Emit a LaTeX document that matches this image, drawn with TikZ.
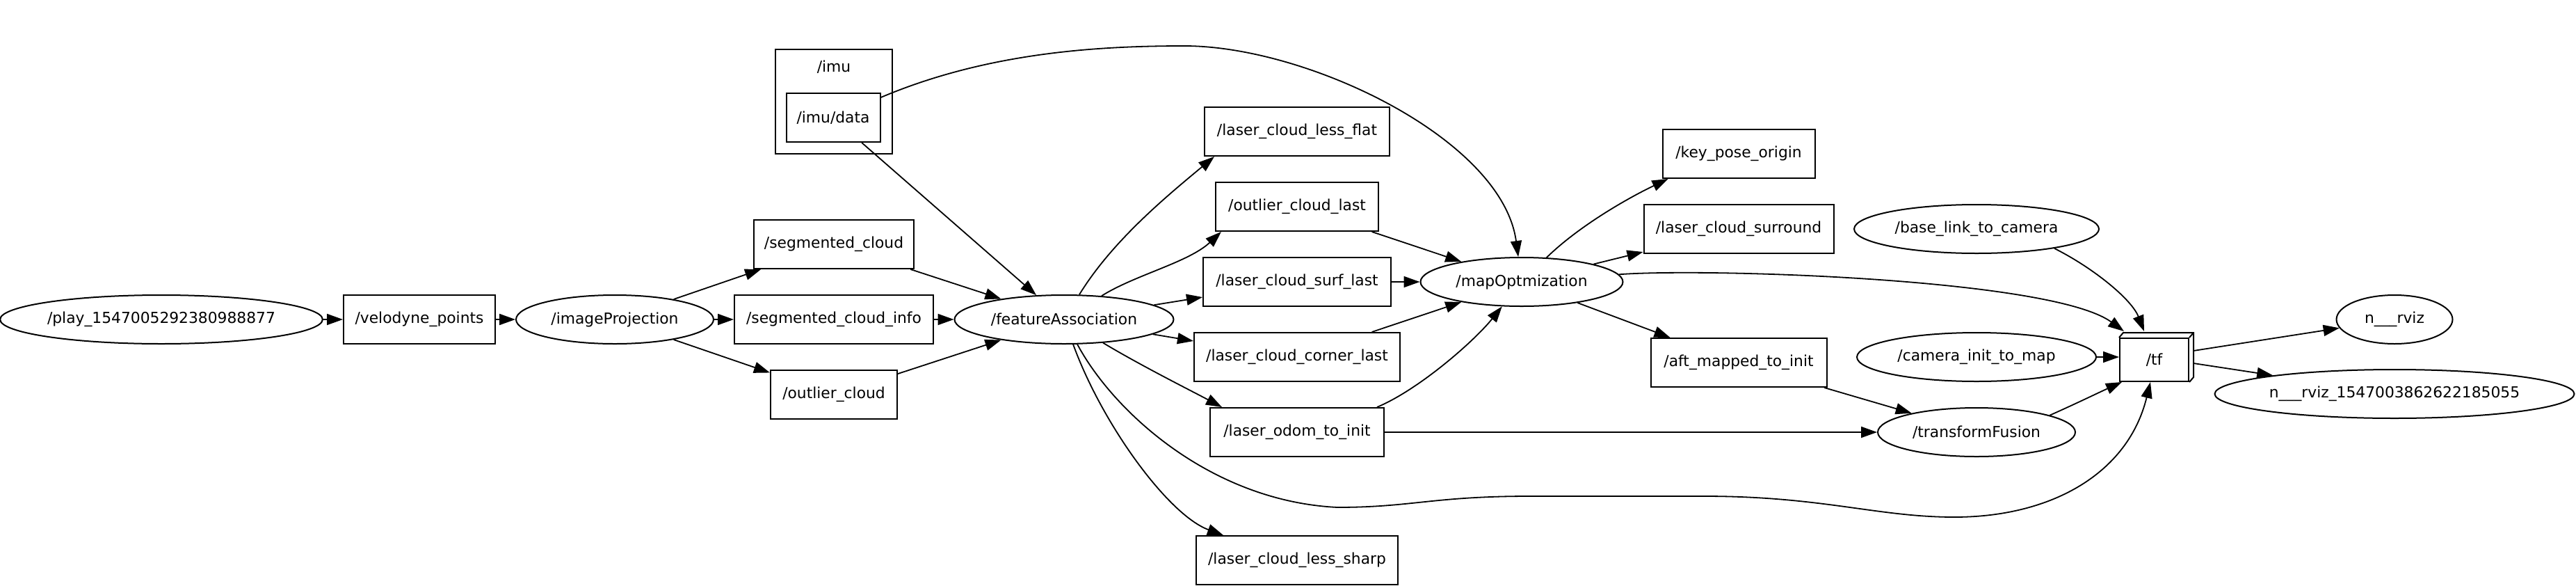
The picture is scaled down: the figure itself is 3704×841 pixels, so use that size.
\documentclass[tikz,border=0pt]{standalone}
\usepackage{fontspec}
\setmainfont{DejaVu Sans}
\usetikzlibrary{arrows.meta,shapes.geometric}
\begin{document}
\begin{tikzpicture}[x=1pt,y=-1pt]
\tikzset{
 lbl/.style={font=\fontsize{21.8}{26}\selectfont, inner sep=0pt},
 topic/.style={lbl, draw, line width=2pt, rectangle, minimum height=70pt},
 rosnode/.style={lbl, draw, line width=2pt, ellipse, minimum height=70pt},
 edge/.style={line width=1.8pt, -{Triangle[length=23pt,width=16pt]}},
}
\fill[white] (0,0) rectangle (3704,841);
\useasboundingbox (0,0) rectangle (3704,841);

% cluster
\node[draw, line width=2pt, minimum width=168pt, minimum height=150pt, inner sep=0pt] (imucl) at (1199,146) {};
\node[lbl] (imulbl) at (1199,96) {/imu};

% nodes
\node[rosnode, minimum width=462pt] (play) at (232,459) {/play\_1547005292380988877};
\node[topic, minimum width=218pt] (velo) at (603,459) {/velodyne\_points};
\node[rosnode, minimum width=284pt] (imP) at (884,459) {/imageProjection};
\node[topic, minimum width=135pt] (imudata) at (1198,169) {/imu/data};
\node[topic, minimum width=230pt] (seg) at (1199,351) {/segmented\_cloud};
\node[topic, minimum width=286pt] (seginfo) at (1199,459) {/segmented\_cloud\_info};
\node[topic, minimum width=182pt] (outlier) at (1199,567) {/outlier\_cloud};
\node[rosnode, minimum width=315pt] (fA) at (1530,459) {/featureAssociation};
\node[topic, minimum width=266pt] (lessflat) at (1865,189) {/laser\_cloud\_less\_flat};
\node[topic, minimum width=234pt] (olast) at (1865,297) {/outlier\_cloud\_last};
\node[topic, minimum width=270pt] (surf) at (1865,405) {/laser\_cloud\_surf\_last};
\node[topic, minimum width=296pt] (corner) at (1865,513) {/laser\_cloud\_corner\_last};
\node[topic, minimum width=250pt] (odom) at (1865,621) {/laser\_odom\_to\_init};
\node[topic, minimum width=290pt] (lesssharp) at (1865,805) {/laser\_cloud\_less\_sharp};
\node[rosnode, minimum width=291pt] (mapOpt) at (2188,405) {/mapOptmization};
\node[topic, minimum width=219pt] (keypose) at (2500,221) {/key\_pose\_origin};
\node[topic, minimum width=273pt] (surround) at (2500,329) {/laser\_cloud\_surround};
\node[topic, minimum width=253pt] (aft) at (2500,521) {/aft\_mapped\_to\_init};
\node[rosnode, minimum width=352pt] (base) at (2842,329) {/base\_link\_to\_camera};
\node[rosnode, minimum width=344pt] (cam) at (2842,513) {/camera\_init\_to\_map};
\node[rosnode, minimum width=284pt] (tF) at (2842,621) {/transformFusion};
\node[topic, minimum width=99pt, minimum height=62pt] (tf) at (3097.5,517) {/tf};
\draw[line width=2pt, line join=miter] (tf.north west) -- ([xshift=6pt,yshift=7pt]tf.north west) -- ([xshift=6pt,yshift=7pt]tf.north east) -- ([xshift=6pt,yshift=7pt]tf.south east) -- (tf.south east);
\draw[line width=2pt] (tf.north east) -- ([xshift=6pt,yshift=7pt]tf.north east);
\node[rosnode, minimum width=167pt] (nrviz) at (3443,459) {n\_\_\_rviz};
\node[rosnode, minimum width=517pt] (rvizlong) at (3443,566) {n\_\_\_rviz\_1547003862622185055};

% edges
\draw[edge] (play) -- (velo);
\draw[edge] (velo) -- (imP);
\draw[edge] (imP) -- (seg);
\draw[edge] (imP) -- (seginfo);
\draw[edge] (imP) -- (outlier);
\draw[edge] (seg) -- (fA);
\draw[edge] (seginfo) -- (fA);
\draw[edge] (outlier) -- (fA);
\draw[edge] (imudata) -- (fA);
\draw[edge] (imudata) .. controls (1420,75) and (1580,66) .. (1703,66) .. controls (1880,66) and (2160,200) .. (mapOpt);
\draw[edge] (fA) .. controls (1600,345) and (1680,280) .. ([xshift=15pt]lessflat.south west);
\draw[edge] (fA) .. controls (1632,395) and (1709,377) .. ([xshift=9pt]olast.south west);
\draw[edge] (fA) -- ([yshift=-22pt]surf.west);
\draw[edge] (fA) -- ([yshift=23pt]corner.west);
\draw[edge] (fA) .. controls (1640,525) and (1710,560) .. ([xshift=18pt]odom.north west);
\draw[edge] (fA) .. controls (1585,610) and (1680,740) .. ([xshift=40pt]lesssharp.north west);
\draw[edge] (fA) .. controls (1600,590) and (1740,720) .. (1923,729) .. controls (2030,729) and (2060,713) .. (2200,713) -- (2450,713) .. controls (2620,713) and (2700,743) .. (2810,743) .. controls (2950,743) and (3060,680) .. ([xshift=45pt]tf.south west);
\draw[edge] (olast) -- (mapOpt);
\draw[edge] (surf) -- (mapOpt);
\draw[edge] (corner) -- (mapOpt);
\draw[edge] ([xshift=-11pt]odom.north east) .. controls (2040,560) and (2120,490) .. (mapOpt);
\draw[edge] (odom) -- (tF);
\draw[edge] (mapOpt) .. controls (2270,325) and (2340,285) .. ([xshift=9pt]keypose.south west);
\draw[edge] (mapOpt) -- ([yshift=-33pt]surround.west);
\draw[edge] (mapOpt) -- ([xshift=29pt]aft.north west);
\draw[edge] (mapOpt) .. controls (2450,385) and (2950,400) .. ([xshift=7pt,yshift=9pt]tf.north west);
\draw[edge] (aft) -- (tF);
\draw[edge] (base.-14.3) .. controls (3010,385) and (3065,430) .. ([xshift=36pt,yshift=9pt]tf.north west);
\draw[edge] (cam) -- (cam -| tf.west);
\draw[edge] (tF.13.6) .. controls (2985,580) and (3020,563) .. ([xshift=4pt]tf.south west);
\draw[edge] ([xshift=6pt,yshift=13pt]tf.east) -- (nrviz);
\draw[edge] ([xshift=6pt,yshift=-5pt]tf.east) -- (rvizlong);
\end{tikzpicture}
\end{document}
